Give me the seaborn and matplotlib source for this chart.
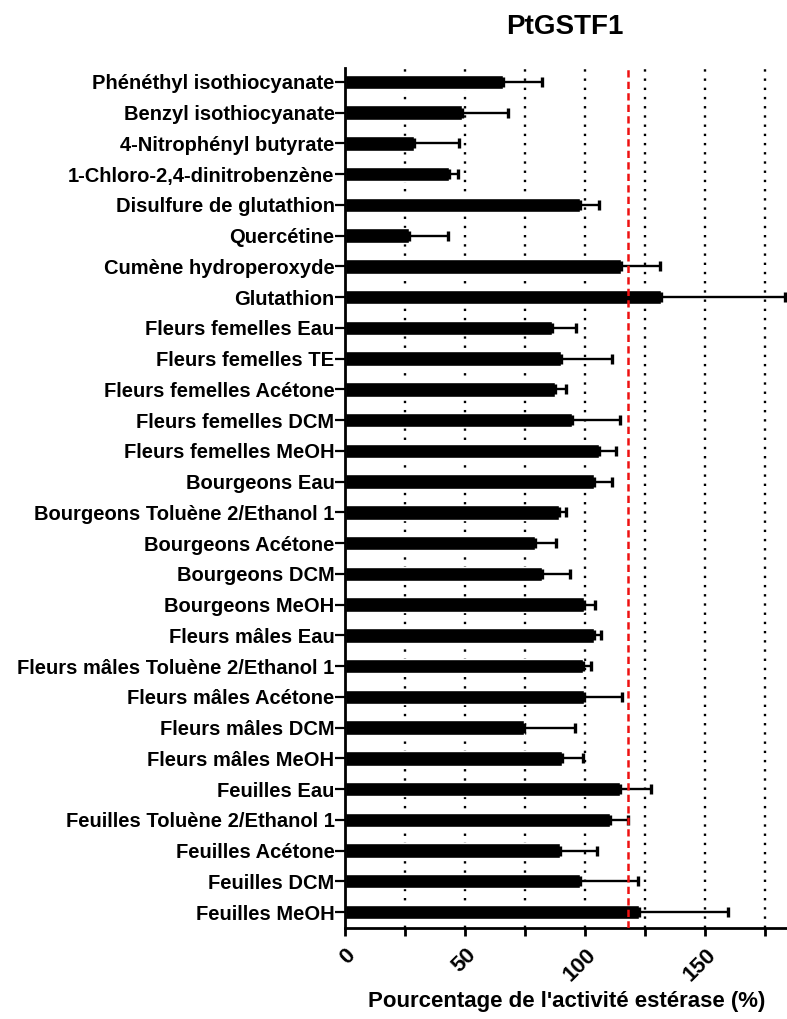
import matplotlib
matplotlib.use("Agg")
import matplotlib.pyplot as plt
import seaborn as sns
import pandas as pd
import numpy as np

categories = [
    "Phénéthyl isothiocyanate",
    "Benzyl isothiocyanate",
    "4-Nitrophényl butyrate",
    "1-Chloro-2,4-dinitrobenzène",
    "Disulfure de glutathion",
    "Quercétine",
    "Cumène hydroperoxyde",
    "Glutathion",
    "Fleurs femelles Eau",
    "Fleurs femelles TE",
    "Fleurs femelles Acétone",
    "Fleurs femelles DCM",
    "Fleurs femelles MeOH",
    "Bourgeons Eau",
    "Bourgeons Toluène 2/Ethanol 1",
    "Bourgeons Acétone",
    "Bourgeons DCM",
    "Bourgeons MeOH",
    "Fleurs mâles Eau",
    "Fleurs mâles Toluène 2/Ethanol 1",
    "Fleurs mâles Acétone",
    "Fleurs mâles DCM",
    "Fleurs mâles MeOH",
    "Feuilles Eau",
    "Feuilles Toluène 2/Ethanol 1",
    "Feuilles Acétone",
    "Feuilles DCM",
    "Feuilles MeOH",
]

activity = [
    65.7, 48.7, 28.6, 43.3, 98.0, 26.5, 115.1, 131.7,
    86.0, 90.1, 87.4, 94.7, 105.9,
    103.6, 88.9, 78.9, 81.9, 99.4,
    103.6, 99.0, 99.4, 74.7, 90.5,
    114.4, 110.2, 89.7, 97.8, 122.2,
]

error = [
    16.5, 19.1, 18.8, 3.7, 7.7, 16.5, 16.2, 51.6,
    10.1, 21.2, 4.8, 19.7, 6.8,
    7.7, 3.3, 8.9, 11.6, 4.5,
    2.8, 3.6, 16.1, 21.1, 8.6,
    12.9, 7.5, 15.0, 24.2, 37.4,
]

reference_level = 117.7
x_ticks = [0, 25, 50, 75, 100, 125, 150, 175]
x_tick_labels = ["0", "", "50", "", "100", "", "150", ""]

df = pd.DataFrame({"categorie": categories, "activite": activity, "erreur": error})

sns.set_style("white")
plt.rcParams["font.family"] = ["Liberation Sans", "DejaVu Sans"]
plt.rcParams["font.weight"] = "bold"
for key in ["text.color", "axes.labelcolor", "xtick.color", "ytick.color",
            "xtick.labelcolor", "ytick.labelcolor"]:
    plt.rcParams[key] = "black"

fig = plt.figure(figsize=(7.87, 10.19), dpi=100)
ax = fig.add_axes([345 / 787, 1 - 928 / 1019, (787 - 345) / 787, (928 - 68) / 1019])

# dotted vertical grid behind the bars
for xv in x_ticks[1:]:
    ax.axvline(xv, color="black", linestyle=(0, (1, 2.9)), linewidth=1.7, zorder=0)

sns.barplot(data=df, x="activite", y="categorie", orient="h", color="black",
            width=0.47, errorbar=None, ax=ax, saturation=1, zorder=2)

ypos = np.arange(len(categories))
ax.errorbar(df["activite"], ypos,
            xerr=[np.zeros(len(error)), df["erreur"]],
            fmt="none", ecolor="black", elinewidth=1.7, capsize=3.5,
            capthick=2.4, zorder=3)

ax.axvline(reference_level, color="#ee1111", linestyle=(0, (2.9, 1.7)),
           linewidth=1.8, zorder=4)

ax.set_xlim(0, 184)
ax.set_ylim(len(categories) - 0.48, -0.45)

ax.set_xticks(x_ticks)
ax.set_xticklabels(x_tick_labels, rotation=45, ha="right",
                   rotation_mode="anchor", fontsize=16, fontweight="bold")
ax.tick_params(axis="x", direction="out", length=6, width=2, pad=6, bottom=True)
ax.tick_params(axis="y", direction="out", length=7, width=1.6, pad=0.5, left=True,
               labelsize=14.5)
for lbl in ax.get_yticklabels():
    lbl.set_fontweight("bold")

for side in ["top", "right"]:
    ax.spines[side].set_visible(False)
for side in ["left", "bottom"]:
    ax.spines[side].set_linewidth(2)
    ax.spines[side].set_color("black")

ax.set_ylabel("")
ax.set_xlabel("")
fig.text(567 / 787, 1 - 1001 / 1019, "Pourcentage de l'activité estérase (%)",
         ha="center", va="center", fontsize=16, fontweight="bold")

fig.text(565 / 787, 1 - 27 / 1019, "PtGSTF1", ha="center", va="center",
         fontsize=20, fontweight="bold")

fig.savefig("out.png", dpi=100)
